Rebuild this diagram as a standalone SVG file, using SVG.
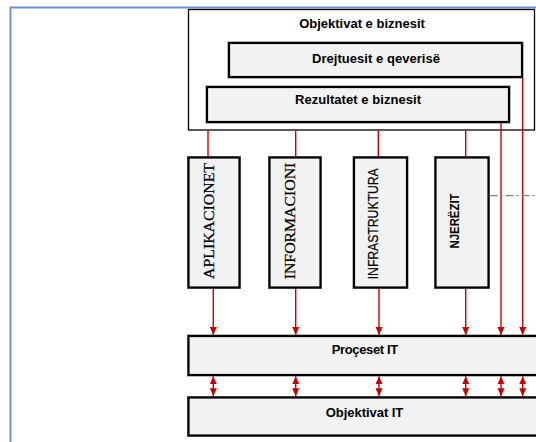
<svg xmlns="http://www.w3.org/2000/svg" width="536" height="442" viewBox="0 0 536 442">
<style>
.box{fill:#f2f2f2;stroke:#000;stroke-width:2.2}
.shadow{fill:none;stroke:#9a9a9a;stroke-width:1}
.t{font-family:"Liberation Sans",Arial,sans-serif;font-weight:bold;font-size:13px;fill:#000;text-anchor:middle}
.red{stroke:#cc0000;stroke-width:1.4;fill:none}
</style>
<defs>
<marker id="ah" viewBox="0 0 8 8" refX="8" refY="4" markerWidth="8" markerHeight="8" markerUnits="userSpaceOnUse" orient="auto-start-reverse">
<path d="M0,0.5 L8,4 L0,7.5 Z" fill="#cc0000"/>
</marker>
</defs>
<rect x="0" y="0" width="536" height="442" fill="#fff"/>
<rect x="10.5" y="7.5" width="560" height="460" fill="none" stroke="#6a93cc" stroke-width="2"/>

<g id="objektivat-biznesit">
<rect x="188.5" y="9.5" width="346" height="120.5" fill="#fff" stroke="#000" stroke-width="1.3"/>
<text class="t" x="362" y="28">Objektivat e biznesit</text>
</g>
<g id="drejtuesit">
<rect class="shadow" x="228" y="42" width="295" height="36"/>
<rect class="box" x="229" y="43" width="293" height="34"/>
<text class="t" x="376" y="63" textLength="128">Drejtuesit e qeverisë</text>
</g>
<g id="rezultatet">
<rect class="shadow" x="206" y="86" width="304" height="37"/>
<rect class="box" x="207" y="87" width="302" height="35"/>
<text class="t" x="358" y="104" textLength="126">Rezultatet e biznesit</text>
</g>

<g id="aplikacionet">
<rect class="shadow" x="187.5" y="156.5" width="53" height="132"/>
<rect class="box" x="188.5" y="157.5" width="51" height="130"/>
<text transform="translate(214.3,221) rotate(-90)" font-family="'Liberation Serif','Times New Roman',serif" font-size="15.5" stroke="#000" stroke-width="0.25" text-anchor="middle" textLength="116" lengthAdjust="spacingAndGlyphs">APLIKACIONET</text>
</g>
<g id="informacioni">
<rect class="shadow" x="268.5" y="156.5" width="53" height="132"/>
<rect class="box" x="269.5" y="157.5" width="51" height="130"/>
<text transform="translate(295,221) rotate(-90)" font-family="'Liberation Serif','Times New Roman',serif" font-size="15.5" stroke="#000" stroke-width="0.25" text-anchor="middle" textLength="116.6" lengthAdjust="spacingAndGlyphs">INFORMACIONI</text>
</g>
<g id="infrastruktura">
<rect class="shadow" x="353" y="156.5" width="55" height="132"/>
<rect class="box" x="354" y="157.5" width="53" height="130"/>
<text transform="translate(378.3,223.8) rotate(-90)" font-family="'Liberation Sans',Arial,sans-serif" font-size="14" stroke="#000" stroke-width="0.2" text-anchor="middle" textLength="111" lengthAdjust="spacingAndGlyphs">INFRASTRUKTURA</text>
</g>
<g id="njerezit">
<rect class="shadow" x="434.5" y="156.5" width="55" height="132"/>
<rect class="box" x="435.5" y="157.5" width="53" height="130"/>
<text transform="translate(459.3,221) rotate(-90)" font-family="'Liberation Sans',Arial,sans-serif" font-weight="bold" font-size="13" text-anchor="middle" textLength="55" lengthAdjust="spacingAndGlyphs">NJERËZIT</text>
</g>

<g id="proceset-it">
<rect class="shadow" x="187.5" y="335" width="360" height="41"/>
<rect class="box" x="188.5" y="336" width="360" height="39"/>
<text class="t" x="365" y="354.3" textLength="66.6">Proçeset IT</text>
</g>
<g id="objektivat-it">
<rect class="shadow" x="187.5" y="396.5" width="360" height="40"/>
<rect class="box" x="188.5" y="397.5" width="360" height="38"/>
<text class="t" x="364.5" y="416.7" textLength="77.6">Objektivat IT</text>
</g>

<g id="connectors">
<line class="red" x1="208" y1="130.5" x2="208" y2="156.5"/>
<line class="red" x1="295.7" y1="130.5" x2="295.7" y2="156.5"/>
<line class="red" x1="378.3" y1="130.5" x2="378.3" y2="156.5"/>
<line class="red" x1="465.7" y1="130.5" x2="465.7" y2="156.5"/>

<line class="red" x1="213.3" y1="288.5" x2="213.3" y2="335" marker-end="url(#ah)"/>
<line class="red" x1="295.7" y1="288.5" x2="295.7" y2="335" marker-end="url(#ah)"/>
<line class="red" x1="379" y1="288.5" x2="379" y2="335" marker-end="url(#ah)"/>
<line class="red" x1="465.7" y1="288.5" x2="465.7" y2="335" marker-end="url(#ah)"/>
<line class="red" x1="501" y1="123" x2="501" y2="335" marker-end="url(#ah)"/>
<line class="red" x1="522.7" y1="78" x2="522.7" y2="335" marker-end="url(#ah)"/>

<line class="red" x1="213.3" y1="376.2" x2="213.3" y2="396.3" marker-start="url(#ah)" marker-end="url(#ah)"/>
<line class="red" x1="295.7" y1="376.2" x2="295.7" y2="396.3" marker-start="url(#ah)" marker-end="url(#ah)"/>
<line class="red" x1="379" y1="376.2" x2="379" y2="396.3" marker-start="url(#ah)" marker-end="url(#ah)"/>
<line class="red" x1="465.7" y1="376.2" x2="465.7" y2="396.3" marker-start="url(#ah)" marker-end="url(#ah)"/>
<line class="red" x1="501" y1="376.2" x2="501" y2="396.3" marker-start="url(#ah)" marker-end="url(#ah)"/>
<line class="red" x1="522.7" y1="376.2" x2="522.7" y2="396.3" marker-start="url(#ah)" marker-end="url(#ah)"/>

<line x1="489.5" y1="195.7" x2="536" y2="195.7" stroke="#808080" stroke-width="1.3" stroke-dasharray="8,3,2,3"/>
</g>
</svg>
